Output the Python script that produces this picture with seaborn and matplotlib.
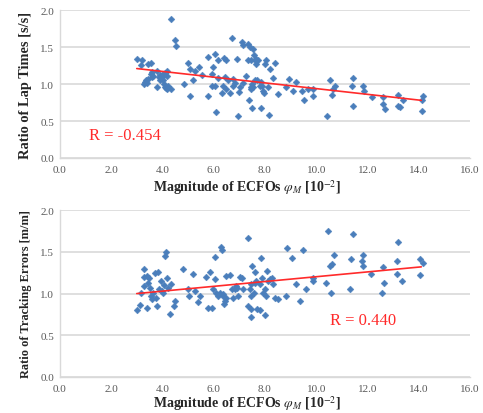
import matplotlib
matplotlib.use("Agg")
import matplotlib.pyplot as plt
import numpy as np
import pandas as pd
import seaborn as sns

sns.set_theme(style="white")
plt.rcParams["font.family"] = ["Liberation Serif", "DejaVu Serif"]
plt.rcParams["mathtext.fontset"] = "stix"

# --- data ---
lap_x = [2.99, 3.19, 3.15, 3.32, 3.28, 3.38, 3.45, 3.45, 3.54, 3.58, 3.64, 3.77, 3.77, 3.90,
         3.97, 4.03, 4.03, 4.10, 4.16, 4.16, 4.23, 4.16, 4.32, 4.32, 4.49, 4.53, 4.85, 5.01,
         5.07, 5.07, 5.20, 5.27, 5.43, 5.53, 5.79, 5.79, 5.92, 5.92, 5.98, 6.05, 6.05, 6.11,
         6.18, 6.18, 6.31, 6.37, 6.40, 6.44, 6.48, 6.50, 6.57, 6.63, 6.70, 6.74, 6.76, 6.83,
         6.92, 6.96, 7.00, 7.02, 7.11, 7.13, 7.15, 7.28, 7.34, 7.34, 7.38, 7.41, 7.44, 7.47,
         7.47, 7.51, 7.54, 7.57, 7.60, 7.60, 7.64, 7.66, 7.73, 7.82, 7.86, 7.93, 7.95, 8.02,
         8.06, 8.13, 8.17, 8.19, 8.32, 8.39, 8.52, 8.84, 8.95, 9.10, 9.23, 9.43, 9.52, 9.69,
         9.88, 9.88, 10.43, 10.53, 10.60, 10.64, 10.73, 11.38, 11.42, 11.44, 11.81, 11.86,
         12.16, 12.59, 12.61, 12.68, 13.20, 13.20, 13.26, 13.39, 14.11, 14.11, 14.17,
         3.85, 3.92, 4.05, 4.15, 3.55, 3.60, 3.35, 4.10, 7.55, 7.48, 7.70, 7.85, 7.90]
lap_y = [1.34, 1.33, 1.26, 1.03, 1.00, 1.02, 1.07, 1.27, 1.29, 1.16, 1.11, 1.18, 0.96, 1.12,
         1.09, 1.14, 1.05, 0.96, 1.11, 1.18, 0.97, 0.93, 1.88, 0.93, 1.59, 1.51, 1.00, 1.29,
         1.21, 0.84, 1.05, 1.18, 1.23, 1.12, 1.36, 0.84, 1.14, 0.98, 1.23, 1.41, 0.98, 0.62,
         1.32, 1.08, 0.88, 0.98, 1.35, 1.09, 0.93, 1.32, 1.05, 0.88, 1.63, 1.07, 0.98, 1.02,
         1.34, 0.57, 0.89, 0.96, 1.57, 1.53, 1.02, 1.11, 1.32, 1.54, 0.78, 1.50, 0.96, 1.32,
         0.93, 0.67, 1.47, 1.39, 1.32, 1.05, 1.27, 1.34, 1.32, 0.98, 0.67, 0.91, 0.88, 1.27,
         1.32, 0.96, 0.58, 1.20, 1.08, 1.29, 0.87, 0.96, 1.07, 0.91, 1.03, 0.90, 0.78, 0.93,
         0.94, 0.84, 0.57, 1.05, 0.85, 0.94, 0.97, 0.97, 0.70, 1.08, 0.97, 0.91,
         0.82, 0.82, 0.73, 0.66, 0.85, 0.71, 0.69, 0.78, 0.63, 0.78, 0.84,
         1.10, 1.05, 1.00, 0.95, 1.14, 1.10, 1.06, 1.15, 0.96, 1.00, 1.05, 1.03, 0.98]

trk_x = [2.99, 3.15, 3.12, 3.28, 3.30, 3.30, 3.38, 3.38, 3.45, 3.49, 3.51, 3.54, 3.58, 3.64,
         3.71, 3.75, 3.77, 3.84, 3.88, 3.93, 3.97, 4.01, 4.06, 4.10, 4.14, 4.16, 4.23, 4.29,
         4.32, 4.45, 4.49, 4.81, 5.01, 5.05, 5.20, 5.27, 5.40, 5.46, 5.72, 5.79, 5.85, 5.92,
         5.98, 6.05, 6.05, 6.11, 6.18, 6.24, 6.27, 6.31, 6.35, 6.37, 6.40, 6.44, 6.48, 6.50,
         6.63, 6.70, 6.76, 6.83, 6.89, 6.92, 6.96, 7.02, 7.09, 7.15, 7.34, 7.34, 7.41, 7.44,
         7.47, 7.47, 7.47, 7.51, 7.57, 7.60, 7.60, 7.64, 7.70, 7.80, 7.82, 7.86, 7.90, 7.93,
         8.00, 8.00, 8.06, 8.09, 8.13, 8.21, 8.26, 8.32, 8.39, 8.52, 8.82, 8.87, 9.07, 9.23,
         9.37, 9.49, 9.62, 9.88, 9.88, 10.38, 10.47, 10.53, 10.56, 10.60, 10.69, 11.31, 11.34,
         11.42, 11.77, 11.83, 11.83, 12.12, 12.55, 12.59, 12.64, 13.16, 13.16, 13.20, 13.33,
         14.04, 14.07, 14.15]
trk_y = [0.80, 1.01, 0.86, 1.09, 1.29, 1.20, 1.21, 0.83, 1.13, 1.19, 1.07, 0.97, 0.93, 1.01,
         1.25, 0.95, 0.85, 1.26, 1.05, 1.15, 1.03, 1.01, 1.10, 1.45, 1.50, 1.19, 1.07, 0.76,
         1.11, 0.85, 0.91, 1.29, 1.05, 0.97, 1.24, 1.03, 0.90, 0.97, 1.20, 0.83, 1.26, 0.83,
         1.05, 1.17, 1.44, 1.01, 0.97, 1.01, 1.56, 1.52, 0.97, 0.99, 0.87, 0.91, 1.21, 0.95,
         1.22, 1.05, 0.95, 1.05, 1.09, 1.07, 0.97, 1.20, 1.19, 1.05, 1.67, 0.85, 1.05, 0.82,
         1.11, 0.97, 0.72, 1.33, 1.01, 1.26, 1.13, 1.15, 0.82, 0.80, 1.11, 1.43, 1.19, 1.01,
         1.05, 0.74, 0.97, 1.27, 1.15, 1.17, 1.19, 1.11, 0.95, 0.94, 0.97, 1.55, 1.43, 1.11,
         0.91, 1.52, 1.05, 1.15, 1.19, 1.13, 1.75, 1.33, 1.01, 1.35, 1.46, 1.05, 1.42,
         1.71, 1.39, 1.46, 1.33, 1.24, 1.01, 1.32, 1.13, 1.39, 1.23, 1.62, 1.15,
         1.42, 1.22, 1.37]

# trend lines as drawn in the reference
lap_fit_x = [3.0, 14.1]
lap_fit_y = [1.21, 0.78]
trk_fit_x = [3.0, 14.1]
trk_fit_y = [1.00, 1.32]

x_ticks = [0, 2, 4, 6, 8, 10, 12, 14, 16]
y_ticks = [0.0, 0.5, 1.0, 1.5, 2.0]

panels = [
    (lap_x, lap_y, lap_fit_x, lap_fit_y, "Ratio of Lap Times [s/s]", 10.4, "R = -0.454", (1.15, 0.31)),
    (trk_x, trk_y, trk_fit_x, trk_fit_y, "Ratio of Tracking Errors [m/m]", 8.9, "R = 0.440", (10.55, 0.68)),
]

fig = plt.figure(figsize=(4.83, 4.14), dpi=100)
rects = [[0.124, 0.616, 0.849, 0.357], [0.124, 0.087, 0.849, 0.403]]
label_y = [-0.13, -0.10]

grid_c = "#d9d9d9"
tick_c = "#595959"
for rect, ly, (px, py, fx, fy, ylab, ysize, rtxt, rpos) in zip(rects, label_y, panels):
    ax = fig.add_axes(rect)
    df = pd.DataFrame({"x": px, "y": py})
    sns.scatterplot(data=df, x="x", y="y", ax=ax, marker="D", s=12,
                    color="#4a7ebb", edgecolor="#4a7ebb", linewidth=0.3, zorder=3)
    sns.lineplot(x=fx, y=fy, ax=ax, color="#ff2a2a", linewidth=1.2, zorder=4)
    ax.set_xlim(0, 16)
    ax.set_ylim(0, 2)
    ax.set_xticks(x_ticks)
    ax.set_xticklabels([f"{v:.1f}" for v in x_ticks])
    ax.set_yticks(y_ticks)
    ax.set_yticklabels([f"{v:.1f}" for v in y_ticks])
    ax.grid(axis="y", color=grid_c, linewidth=1.2)
    ax.grid(axis="x", visible=False)
    for side in ["top", "right"]:
        ax.spines[side].set_visible(False)
    for side in ["left", "bottom"]:
        ax.spines[side].set_color(grid_c)
        ax.spines[side].set_linewidth(1.0)
    ax.tick_params(axis="x", direction="out", length=3, color=grid_c, labelsize=8,
                   labelcolor=tick_c, pad=2)
    ax.tick_params(axis="y", length=0, labelsize=8, labelcolor=tick_c, pad=4)
    ax.set_ylabel(ylab, fontsize=ysize, fontweight="bold", labelpad=6)
    ax.set_xlabel(r"Magnitude of ECFOs $\varphi_M$ [10$^{-2}$]", fontsize=10,
                  fontweight="bold", labelpad=2)
    ax.xaxis.set_label_coords(0.455, ly)
    ax.text(rpos[0], rpos[1], rtxt, color="#ff2a2a", fontsize=12, va="center", ha="left")

fig.savefig("out.png", dpi=100)
